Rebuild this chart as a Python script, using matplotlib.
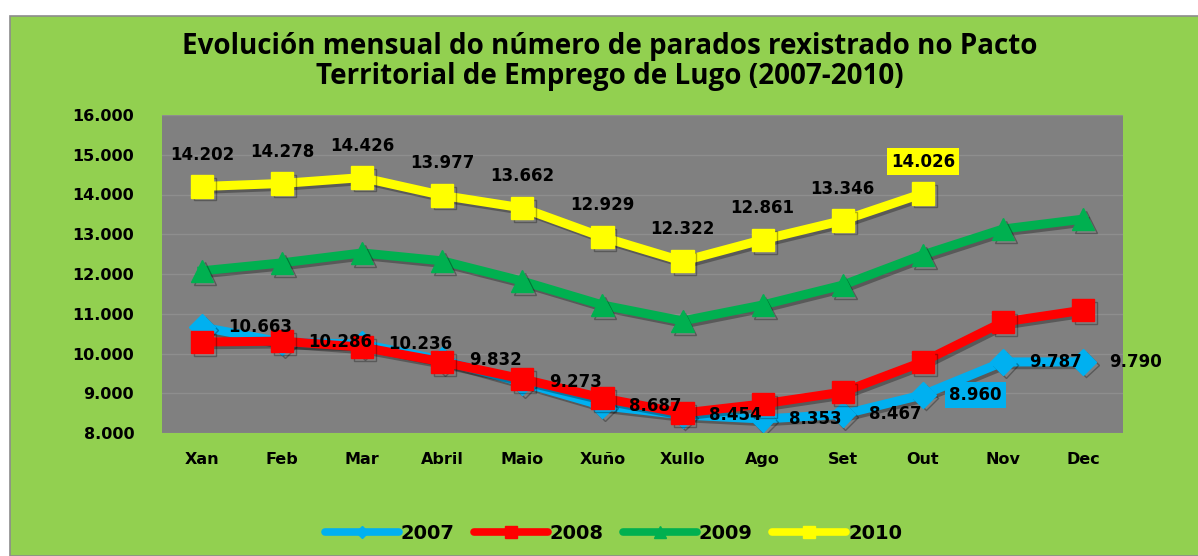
import matplotlib
matplotlib.use("Agg")
import matplotlib.pyplot as plt
import matplotlib.patheffects as pe
from matplotlib.patches import Rectangle
from matplotlib.ticker import FuncFormatter

# Data
meses = ["Xan", "Feb", "Mar", "Abril", "Maio", "Xuño", "Xullo", "Ago", "Set", "Out", "Nov", "Dec"]
p2007 = [10663, 10286, 10236, 9832, 9273, 8687, 8454, 8353, 8467, 8960, 9787, 9790]
p2008 = [10290, 10310, 10160, 9790, 9360, 8880, 8500, 8730, 9030, 9790, 10790, 11090]
p2009 = [12080, 12280, 12530, 12330, 11820, 11220, 10820, 11220, 11720, 12480, 13130, 13380]
p2010 = [14202, 14278, 14426, 13977, 13662, 12929, 12322, 12861, 13346, 14026]

def fmt(v):
    return f"{int(v):,}".replace(",", ".")

green_bg = "#92D050"
c07, c08, c09, c10 = "#00B0F0", "#FF0000", "#00B050", "#FFFF00"

fig = plt.figure(figsize=(11.98, 5.56), dpi=100)
fig.patch.set_facecolor("white")
fig.patches.append(Rectangle((10 / 1198, 0), 1.0, (556 - 16) / 556, transform=fig.transFigure,
                             facecolor=green_bg, edgecolor="#8c8c8c", linewidth=1.2, zorder=-10))

ax = fig.add_axes([162 / 1198, 1 - 433 / 556, (1123 - 162) / 1198, (433 - 115) / 556])
ax.set_facecolor("#808080")
for s in ax.spines.values():
    s.set_visible(False)

shadow = [pe.SimpleLineShadow(offset=(2, -2), alpha=0.3), pe.Normal()]
x = list(range(len(meses)))

ax.plot(x, p2007, color=c07, lw=6.5, marker="D", ms=13, label="2007", path_effects=shadow, zorder=3)
ax.plot(x, p2008, color=c08, lw=6.5, marker="s", ms=16, label="2008", path_effects=shadow, zorder=4)
ax.plot(x, p2009, color=c09, lw=6.5, marker="^", ms=16, label="2009", path_effects=shadow, zorder=3)
ax.plot(x[:len(p2010)], p2010, color=c10, lw=6.5, marker="s", ms=16, label="2010", path_effects=shadow, zorder=4)

# data labels
for i, v in enumerate(p2010):
    box = dict(boxstyle="square,pad=0.25", fc=c10, ec="none") if i == len(p2010) - 1 else None
    ax.annotate(fmt(v), (i, v), xytext=(0, 23), textcoords="offset points", ha="center", va="center",
                fontsize=12, fontweight="bold", color="black", bbox=box, zorder=6)
for i, v in enumerate(p2007):
    box = dict(boxstyle="square,pad=0.25", fc=c07, ec="none") if i == 9 else None
    ax.annotate(fmt(v), (i, v), xytext=(19, 0), textcoords="offset points", ha="left", va="center",
                fontsize=12, fontweight="bold", color="black", bbox=box, zorder=6)

ax.set_xlim(-0.5, 11.5)
ax.set_ylim(8000, 16000)
ax.set_yticks(range(8000, 16001, 1000))
ax.yaxis.set_major_formatter(FuncFormatter(lambda v, p: fmt(v)))
ax.set_xticks(x)
ax.set_xticklabels(meses)
ax.tick_params(length=0, labelsize=11.5, pad=14)
ax.tick_params(axis="y", pad=20)
for lab in ax.get_xticklabels() + ax.get_yticklabels():
    lab.set_fontweight("bold")
ax.grid(axis="y", color="#8e8e8e", lw=1)
ax.set_axisbelow(True)

fig.text(0.509, 0.889, "Evolución mensual do número de parados rexistrado no Pacto\nTerritorial de Emprego de Lugo (2007-2010)",
         ha="center", va="center", fontsize=20, fontweight="bold", family="Open Sans", linespacing=1.05)

leg = ax.legend(loc="center", bbox_to_anchor=(0.512, 0.04), bbox_transform=fig.transFigure, ncol=4,
                frameon=False, prop=dict(size=14, weight="bold"), markerscale=0.5,
                handlelength=3.8, columnspacing=1.0, handletextpad=0.1)
for ln in leg.get_lines():
    ln.set_path_effects([])
    ln.set_solid_capstyle("round")
    ln.set_linewidth(5.5)

fig.savefig("out.png", dpi=100, facecolor=fig.get_facecolor())
